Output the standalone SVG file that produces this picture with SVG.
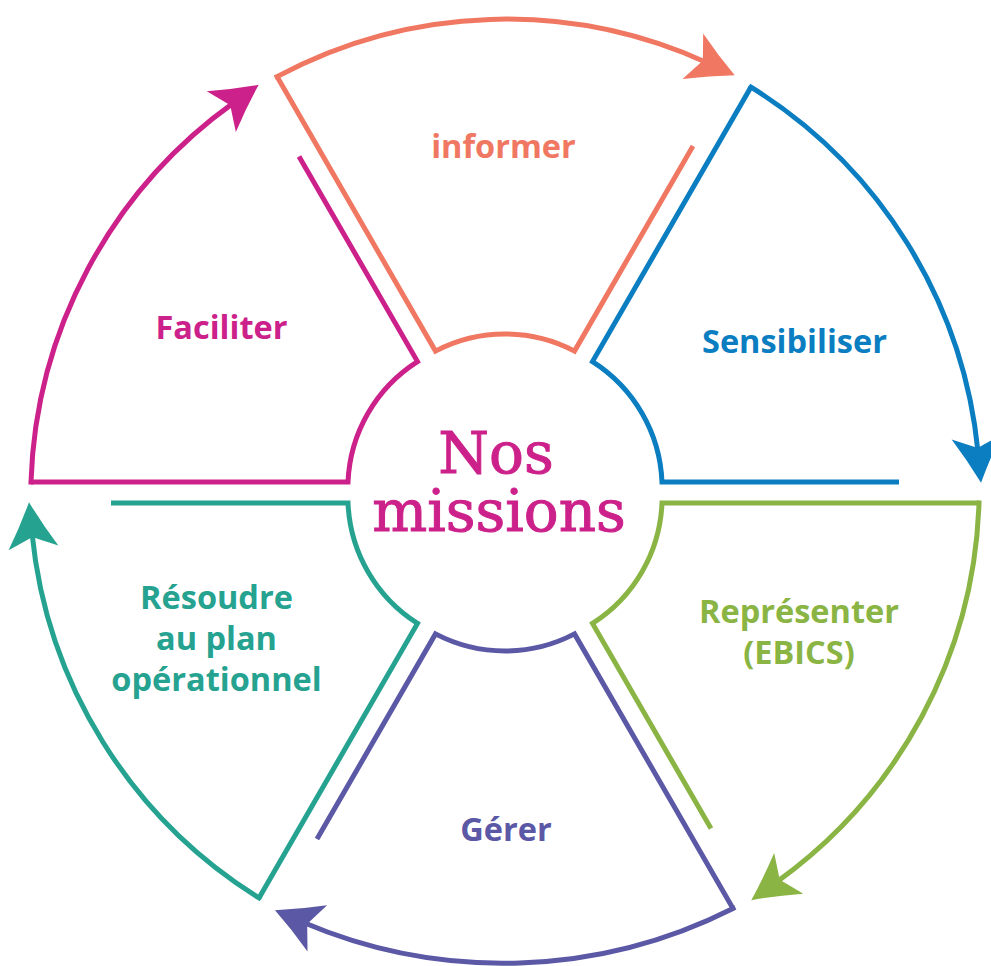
<svg xmlns="http://www.w3.org/2000/svg" xmlns:xlink="http://www.w3.org/1999/xlink" width="991" height="966" viewBox="0 0 991 966">
<style>
.sec{fill:none;stroke-width:5;stroke-linejoin:miter;stroke-linecap:butt}
.arc{fill:none;stroke-width:5;stroke-linecap:square}
.lbl{font-family:"Open Sans","DejaVu Sans",sans-serif;font-weight:700;font-size:32.5px;text-anchor:middle}
.title{font-family:"DejaVu Serif","Liberation Serif",serif;font-size:58px;fill:#CC218A;stroke:#CC218A;stroke-width:1;text-anchor:middle}
.or{stroke:#F07862}.bl{stroke:#0B7DC1}.gr{stroke:#8AB443}.pu{stroke:#5B58A6}.te{stroke:#25A290}.ma{stroke:#CC218A}
</style>
<defs>
<path id="ah" d="M31,0 Q8,-11 -15,-25 Q-8,-9 -4,0 Q-8,9 -15,25 Q8,11 31,0 Z"/>
<marker id="m-or" markerUnits="userSpaceOnUse" viewBox="-20 -30 60 60" refX="0" refY="0" markerWidth="60" markerHeight="60" orient="auto" overflow="visible"><use href="#ah" xlink:href="#ah" fill="#F07862"/></marker>
<marker id="m-bl" markerUnits="userSpaceOnUse" viewBox="-20 -30 60 60" refX="0" refY="0" markerWidth="60" markerHeight="60" orient="auto" overflow="visible"><use href="#ah" xlink:href="#ah" fill="#0B7DC1"/></marker>
<marker id="m-gr" markerUnits="userSpaceOnUse" viewBox="-20 -30 60 60" refX="0" refY="0" markerWidth="60" markerHeight="60" orient="auto" overflow="visible"><use href="#ah" xlink:href="#ah" fill="#8AB443"/></marker>
<marker id="m-pu" markerUnits="userSpaceOnUse" viewBox="-20 -30 60 60" refX="0" refY="0" markerWidth="60" markerHeight="60" orient="auto" overflow="visible"><use href="#ah" xlink:href="#ah" fill="#5B58A6"/></marker>
<marker id="m-te" markerUnits="userSpaceOnUse" viewBox="-20 -30 60 60" refX="0" refY="0" markerWidth="60" markerHeight="60" orient="auto" overflow="visible"><use href="#ah" xlink:href="#ah" fill="#25A290"/></marker>
<marker id="m-ma" markerUnits="userSpaceOnUse" viewBox="-20 -30 60 60" refX="0" refY="0" markerWidth="60" markerHeight="60" orient="auto" overflow="visible"><use href="#ah" xlink:href="#ah" fill="#CC218A"/></marker>
</defs>
<rect width="991" height="966" fill="#FFFFFF"/>

<g id="node-informer">
<path class="sec or" d="M693,145.9 L574.5,351.1 A150,150 0 0 0 435.5,351.1 L277,76.6"/>
<text class="lbl" x="503.5" y="158" fill="#F07862">informer</text>
</g>
<g id="node-sensibiliser">
<path class="sec bl" d="M899,482 L662,482 A150,150 0 0 0 592.5,361.6 L751,87.1"/>
<text class="lbl" x="794.5" y="353" fill="#0B7DC1">Sensibiliser</text>
</g>
<g id="node-representer">
<path class="sec gr" d="M711,828.6 L592.5,623.4 A150,150 0 0 0 662,503 L979,503"/>
<text class="lbl" x="799" y="622.5" fill="#8AB443">Représenter</text>
<text class="lbl" x="799" y="663.5" fill="#8AB443">(EBICS)</text>
</g>
<g id="node-gerer">
<path class="sec pu" d="M317,839.1 L435.5,633.9 A150,150 0 0 0 574.5,633.9 L733,908.4"/>
<text class="lbl" x="506" y="840.5" fill="#5B58A6">Gérer</text>
</g>
<g id="node-resoudre">
<path class="sec te" d="M111,503 L348,503 A150,150 0 0 0 417.5,623.4 L259,897.9"/>
<text class="lbl" x="216.5" y="608.5" fill="#25A290">Résoudre</text>
<text class="lbl" x="216.5" y="649.5" fill="#25A290">au plan</text>
<text class="lbl" x="216.5" y="690.5" fill="#25A290">opérationnel</text>
</g>
<g id="node-faciliter">
<path class="sec ma" d="M299,156.4 L417.5,361.6 A150,150 0 0 0 348,482 L31,482"/>
<text class="lbl" x="221.5" y="338.5" fill="#CC218A">Faciliter</text>
</g>
<g id="node-center">
<text class="title"><tspan x="496" y="473">Nos</tspan><tspan x="499" y="531">missions</tspan></text>
</g>

<g id="connectors">
<path class="arc or" d="M277,76.6 A485,485 0 0 1 706.5,62.5" marker-end="url(#m-or)"/>
<path class="arc bl" d="M751,87.1 A485,485 0 0 1 978,452" marker-end="url(#m-bl)"/>
<path class="arc gr" d="M979,503 A485,485 0 0 1 776.5,882.1" marker-end="url(#m-gr)"/>
<path class="arc pu" d="M733,908.4 A510,510 0 0 1 303.5,922.5" marker-end="url(#m-pu)"/>
<path class="arc te" d="M259,897.9 A485,485 0 0 1 32,533" marker-end="url(#m-te)"/>
<path class="arc ma" d="M31,482 A485,485 0 0 1 233.5,102.9" marker-end="url(#m-ma)"/>
</g>
</svg>
